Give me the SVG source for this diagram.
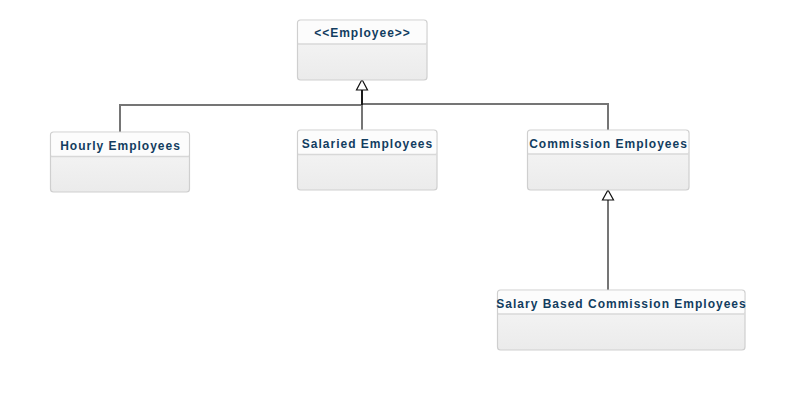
<svg xmlns="http://www.w3.org/2000/svg" width="795" height="400" viewBox="0 0 795 400">
<defs>
<linearGradient id="body" x1="0" y1="0" x2="0" y2="1">
<stop offset="0" stop-color="#f7f7f7"/>
<stop offset="1" stop-color="#ebebeb"/>
</linearGradient>
</defs>
<style>
.box{fill:url(#body);stroke:#cfcfcf;stroke-width:1.2}
.hdr{fill:#fcfcfc}
.div{stroke:#d8d8d8;stroke-width:1.5}
.t{font-family:"Liberation Sans",Arial,sans-serif;font-weight:bold;font-size:12px;letter-spacing:1px;fill:#123d60;text-anchor:middle}
.c{fill:none;stroke:#757575;stroke-width:2}
.k{fill:none;stroke:#1a1a1a;stroke-width:2}
.tri{fill:#fff;stroke:#111;stroke-width:1.2}
</style>
<rect width="795" height="400" fill="#fff"/>
<g id="connectors">
<path class="c" d="M120,132 V105 H362"/>
<path class="c" d="M362,104 H608 V130"/>
<path class="c" d="M362,130 V105"/>
<path class="k" d="M362,105 V90"/>
<path class="tri" d="M362,79.5 L367.5,90 L356.5,90 Z"/>
<path class="c" d="M608,290 V200"/>
<path class="tri" d="M608,190 L613.5,200 L602.5,200 Z"/>
</g>
<g id="employee">
<rect class="box" x="297.5" y="20" width="129.5" height="60" rx="3"/>
<rect class="hdr" x="298.2" y="20.7" width="128" height="23" rx="2.5"/>
<line class="div" x1="298" y1="44" x2="426.5" y2="44"/>
<text class="t" x="362.5" y="37">&lt;&lt;Employee&gt;&gt;</text>
</g>
<g id="hourly">
<rect class="box" x="50.5" y="132" width="139" height="60" rx="3"/>
<rect class="hdr" x="51.2" y="132.7" width="137.6" height="23.5" rx="2.5"/>
<line class="div" x1="51" y1="156.5" x2="189" y2="156.5"/>
<text class="t" x="120.5" y="150">Hourly Employees</text>
</g>
<g id="salaried">
<rect class="box" x="297.5" y="130" width="139.5" height="60" rx="3"/>
<rect class="hdr" x="298.2" y="130.7" width="138" height="23.5" rx="2.5"/>
<line class="div" x1="298" y1="154.5" x2="436.5" y2="154.5"/>
<text class="t" x="367.5" y="148">Salaried Employees</text>
</g>
<g id="commission">
<rect class="box" x="527.5" y="130" width="161.5" height="60" rx="3"/>
<rect class="hdr" x="528.2" y="130.7" width="160" height="23" rx="2.5"/>
<line class="div" x1="528" y1="154" x2="688.5" y2="154"/>
<text class="t" x="608.5" y="148">Commission Employees</text>
</g>
<g id="salarybased">
<rect class="box" x="497.5" y="290" width="247.5" height="60" rx="3"/>
<rect class="hdr" x="498.2" y="290.7" width="246" height="23" rx="2.5"/>
<line class="div" x1="498" y1="314" x2="744.5" y2="314"/>
<text class="t" x="621.5" y="308">Salary Based Commission Employees</text>
</g>
</svg>
